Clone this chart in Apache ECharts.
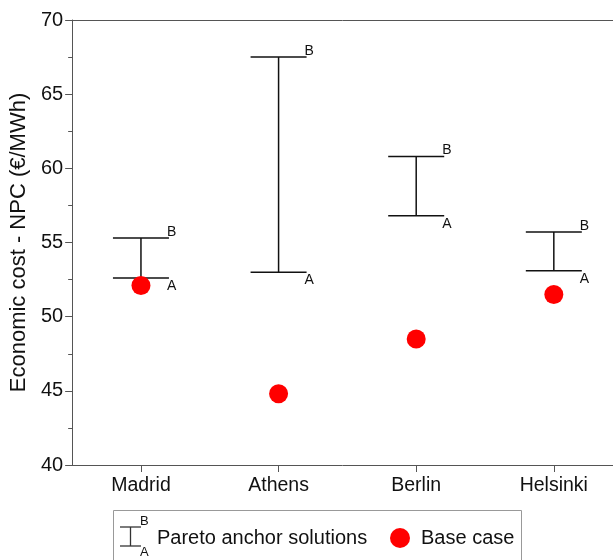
<!DOCTYPE html>
<html><head><meta charset="utf-8">
<script src="https://cdn.jsdelivr.net/npm/echarts@6/dist/echarts.min.js"></script>
<style>html,body{margin:0;padding:0;background:#fff}#c{width:613px;height:560px}</style>
</head><body><div id="c"></div>
<script>
var cities = ['Madrid', 'Athens', 'Berlin', 'Helsinki'];
var anchorA = [52.6, 53.0, 56.8, 53.1];
var anchorB = [55.3, 67.5, 60.8, 55.7];
var baseCase = [52.1, 44.8, 48.5, 51.5];
var yTicks = [40, 45, 50, 55, 60, 65, 70];
var xPositions = [0, 1, 2, 3];

var FONT = '"Liberation Sans", Arial, sans-serif';
var AX = '#555';
var chart = echarts.init(document.getElementById('c'));
var barData = cities.map(function (c, i) { return [xPositions[i], anchorA[i], anchorB[i]]; });
var dotData = cities.map(function (c, i) { return [xPositions[i], baseCase[i]]; });

chart.setOption({
  animation: false,
  grid: { left: 71, right: 0, top: 20, bottom: 95 },
  xAxis: [{
    type: 'value', min: -0.5, max: 3.43,
    axisLine: { show: true, onZero: false, lineStyle: { color: AX, width: 1 } },
    axisTick: { show: true, length: 7, customValues: xPositions, lineStyle: { color: AX } },
    axisLabel: {
      fontSize: 19.5, color: '#111', fontFamily: FONT, margin: 11,
      customValues: xPositions,
      formatter: function (v) { return cities[Math.round(v)] || ''; }
    },
    splitLine: { show: false }
  }, {
    type: 'value', position: 'top', min: -0.5, max: 3.43,
    axisLine: { show: true, onZero: false, lineStyle: { color: AX, width: 1 } },
    axisTick: { show: false }, axisLabel: { show: false }, splitLine: { show: false }
  }],
  yAxis: {
    type: 'value', min: yTicks[0], max: yTicks[yTicks.length - 1], interval: 5,
    name: 'Economic cost - NPC (€/MWh)', nameLocation: 'middle', nameGap: 39,
    nameTextStyle: { fontSize: 22, color: '#111', fontFamily: FONT },
    axisLine: { show: true, onZero: false, lineStyle: { color: AX, width: 1 } },
    axisTick: { show: true, length: 7, lineStyle: { color: AX } },
    minorTick: { show: true, splitNumber: 2, length: 4, lineStyle: { color: AX } },
    axisLabel: { fontSize: 20, color: '#111', fontFamily: FONT, margin: 9 },
    splitLine: { show: false }
  },
  series: [
    {
      type: 'custom', name: 'Pareto anchor solutions', data: barData,
      renderItem: function (params, api) {
        var x = api.value(0);
        var pA = api.coord([x, api.value(1)]);
        var pB = api.coord([x, api.value(2)]);
        var hw = 28;
        var st = { stroke: '#111', lineWidth: 1.5 };
        return {
          type: 'group', children: [
            { type: 'line', shape: { x1: pA[0], y1: pA[1], x2: pB[0], y2: pB[1] }, style: st },
            { type: 'line', shape: { x1: pA[0] - hw, y1: pA[1], x2: pA[0] + hw, y2: pA[1] }, style: st },
            { type: 'line', shape: { x1: pB[0] - hw, y1: pB[1], x2: pB[0] + hw, y2: pB[1] }, style: st },
            { type: 'text', style: { text: 'B', x: pB[0] + 26, y: pB[1] + 1, textVerticalAlign: 'bottom', fontSize: 14, fontFamily: FONT, fill: '#111' } },
            { type: 'text', style: { text: 'A', x: pA[0] + 26, y: pA[1] + 1, textVerticalAlign: 'top', fontSize: 14, fontFamily: FONT, fill: '#111' } }
          ]
        };
      },
      z: 2
    },
    {
      type: 'scatter', name: 'Base case', data: dotData,
      symbol: 'circle', symbolSize: 19, itemStyle: { color: '#ff0000', opacity: 1 }, z: 3
    }
  ],
  graphic: [
    { type: 'rect', shape: { x: 113.5, y: 510.5, width: 408, height: 60 }, style: { fill: '#fff', stroke: '#999', lineWidth: 1 } },
    { type: 'line', shape: { x1: 120, y1: 527, x2: 141, y2: 527 }, style: { stroke: '#333', lineWidth: 1.3 } },
    { type: 'line', shape: { x1: 130.5, y1: 527, x2: 130.5, y2: 546 }, style: { stroke: '#333', lineWidth: 1.3 } },
    { type: 'line', shape: { x1: 120, y1: 546, x2: 141, y2: 546 }, style: { stroke: '#333', lineWidth: 1.3 } },
    { type: 'text', style: { text: 'B', x: 140, y: 528, textVerticalAlign: 'bottom', fontSize: 13, fontFamily: FONT, fill: '#111' } },
    { type: 'text', style: { text: 'A', x: 140, y: 546, textVerticalAlign: 'top', fontSize: 13, fontFamily: FONT, fill: '#111' } },
    { type: 'text', style: { text: 'Pareto anchor solutions', x: 157, y: 538, textVerticalAlign: 'middle', fontSize: 20, fontFamily: FONT, fill: '#111' } },
    { type: 'circle', shape: { cx: 400, cy: 538, r: 10 }, style: { fill: '#ff0000' } },
    { type: 'text', style: { text: 'Base case', x: 421, y: 538, textVerticalAlign: 'middle', fontSize: 20, fontFamily: FONT, fill: '#111' } }
  ]
});
</script></body></html>
